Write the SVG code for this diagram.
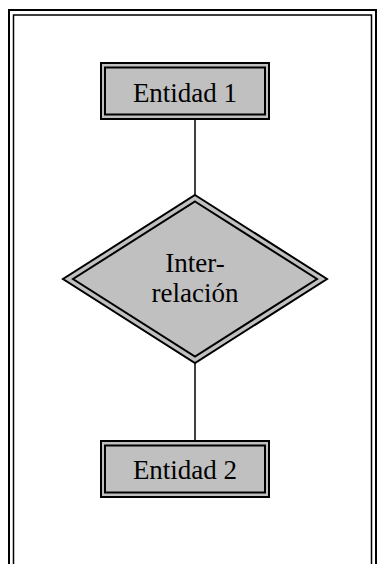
<svg xmlns="http://www.w3.org/2000/svg" width="379" height="564" viewBox="0 0 379 564">
  <style>
    .frame { fill: none; stroke: #000; }
    .shape { fill: #c0c0c0; stroke: #000; stroke-width: 2; }
    .inner { fill: none; stroke: #000; stroke-width: 2; }
    .link { stroke: #000; stroke-width: 1.5; fill: none; }
    .label { font-family: "Liberation Serif", "Times New Roman", serif; font-size: 27px; fill: #000; text-anchor: middle; }
  </style>
  <rect width="379" height="564" fill="#fff"/>
  <!-- double page frame, open at the bottom -->
  <g id="frame">
    <path class="frame" stroke-width="2" d="M9 570 V10 H376 V570"/>
    <path class="frame" stroke-width="1.5" d="M13.5 570 V15 H371.5 V570"/>
  </g>
  <g id="connectors">
    <line class="link" x1="195" y1="120" x2="195" y2="196"/>
    <line class="link" x1="195" y1="362" x2="195" y2="442"/>
  </g>
  <g id="entidad1">
    <rect class="shape" x="101" y="63" width="168" height="56"/>
    <rect class="inner" x="105" y="67.5" width="160" height="47"/>
    <text class="label" x="185" y="102">Entidad 1</text>
  </g>
  <g id="interrelacion">
    <polygon class="shape" points="195,195 327,279 195,363 63,279"/>
    <polygon class="inner" points="195,201.5 317,279 195,356.5 73,279"/>
    <text class="label" x="195" y="272">Inter-</text>
    <text class="label" x="195" y="302">relación</text>
  </g>
  <g id="entidad2">
    <rect class="shape" x="101" y="441" width="168" height="56"/>
    <rect class="inner" x="105" y="445.5" width="160" height="47"/>
    <text class="label" x="185" y="479">Entidad 2</text>
  </g>
</svg>
